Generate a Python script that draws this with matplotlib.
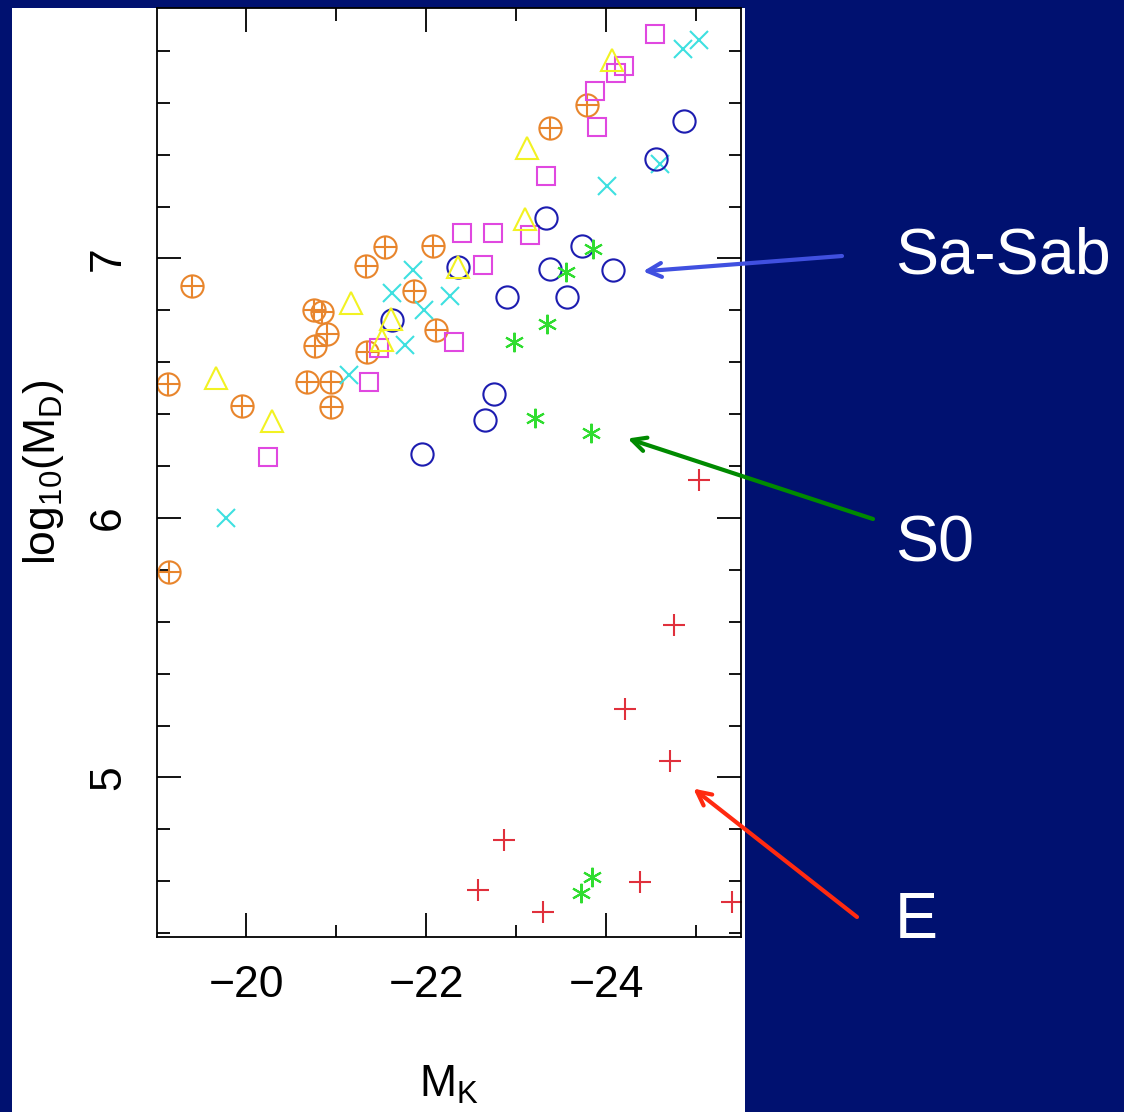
import matplotlib
matplotlib.use("Agg")
import matplotlib.pyplot as plt
from matplotlib.patches import Rectangle
from matplotlib.ticker import MultipleLocator

# ---- data: (M_K, log10 M_D) ----
orange_x = [-19.13, -19.14, -19.40, -19.95, -20.68, -20.94, -20.94, -20.75, -20.84,
            -20.90, -20.77, -21.33, -21.54, -22.08, -21.87, -22.11, -21.34, -23.38, -23.79]
orange_y = [6.517, 5.791, 6.892, 6.430, 6.522, 6.522, 6.427, 6.800, 6.795,
            6.707, 6.661, 6.970, 7.044, 7.046, 6.873, 6.725, 6.639, 7.502, 7.592]

yellow_x = [-19.67, -20.29, -21.17, -21.61, -21.51, -22.36, -23.10, -23.12, -24.07]
yellow_y = [6.541, 6.373, 6.828, 6.768, 6.687, 6.967, 7.153, 7.425, 7.766]

pink_x = [-20.24, -21.37, -21.48, -22.31, -22.40, -22.74, -22.63, -23.16, -23.33,
          -23.90, -23.88, -24.11, -24.20, -24.54]
pink_y = [6.234, 6.522, 6.654, 6.678, 7.099, 7.098, 6.976, 7.091, 7.316,
          7.506, 7.647, 7.714, 7.740, 7.866]

cyan_x = [-19.78, -21.14, -21.77, -21.98, -21.86, -21.62, -22.27, -24.01, -24.60, -24.86, -25.03]
cyan_y = [6.001, 6.549, 6.667, 6.800, 6.956, 6.866, 6.854, 7.279, 7.365, 7.808, 7.840]

# Sa-Sab
blue_x = [-21.95, -21.62, -22.36, -22.90, -23.33, -23.38, -23.57, -23.73, -24.08,
          -24.55, -24.87, -22.76, -22.65]
blue_y = [6.245, 6.761, 6.967, 6.851, 7.157, 6.960, 6.851, 7.046, 6.956,
          7.382, 7.529, 6.479, 6.376]

# S0
green_x = [-23.86, -23.56, -23.34, -22.98, -23.21, -23.83, -23.84, -23.72]
green_y = [7.037, 6.947, 6.746, 6.678, 6.386, 6.327, 4.616, 4.554]

# E
red_x = [-25.03, -24.76, -24.21, -24.71, -22.87, -22.58, -23.30, -24.38, -25.40]
red_y = [6.148, 5.586, 5.265, 5.065, 4.760, 4.565, 4.481, 4.597, 4.520]

bg = '#001170'
fig = plt.figure(figsize=(11.24, 11.12), dpi=100, facecolor=bg)

# white panel behind the plot
fig.add_artist(Rectangle((12/1124, 0), (745-12)/1124, 1104/1112,
                         transform=fig.transFigure, facecolor='white',
                         edgecolor='none', zorder=0))

ax = fig.add_axes([157/1124, 175/1112, 584/1124, 929/1112])
ax.set_facecolor('white')

mew = 1.5
ax.plot(orange_x, orange_y, ls='none', marker='o', ms=16, mfc='none', mec='#e8852c', mew=mew)
ax.plot(orange_x, orange_y, ls='none', marker='+', ms=16, mec='#e8852c', mew=mew)
ax.plot(cyan_x, cyan_y, ls='none', marker='x', ms=13.5, mec='#3ee0e0', mew=mew)
ax.plot(pink_x, pink_y, ls='none', marker='s', ms=13.5, mfc='none', mec='#e048e0', mew=mew)
ax.plot(blue_x, blue_y, ls='none', marker='o', ms=16, mfc='none', mec='#1c1cb0', mew=mew)
ax.plot(yellow_x, yellow_y, ls='none', marker='^', ms=16, mfc='none', mec='#f2f222', mew=mew)
ax.plot(green_x, green_y, ls='none', marker=(6, 2, 0), ms=14, mec='#30dd30', mew=mew)
ax.plot(red_x, red_y, ls='none', marker='+', ms=16, mec='#e0303c', mew=mew)

ax.set_xlim(-19.01, -25.5)
ax.set_ylim(4.385, 7.965)

ax.xaxis.set_major_locator(MultipleLocator(2))
ax.xaxis.set_minor_locator(MultipleLocator(1))
ax.yaxis.set_major_locator(MultipleLocator(1))
ax.yaxis.set_minor_locator(MultipleLocator(0.2))

for s in ax.spines.values():
    s.set_linewidth(1.3)
ax.tick_params(which='both', direction='in', top=True, right=True, width=1.3, color='black')
ax.tick_params(which='major', length=17)
ax.tick_params(which='minor', length=9)
ax.tick_params(axis='x', which='major', labelsize=32, pad=20)
ax.tick_params(axis='y', which='major', labelsize=32, pad=20, labelrotation=90)
for lab in ax.get_yticklabels():
    lab.set_va('center')

fnt = 'Liberation Sans'
for lab in ax.get_xticklabels() + ax.get_yticklabels():
    lab.set_fontfamily(fnt)

ax.set_xlabel(r'$\mathregular{M_K}$', fontsize=32, family=fnt, labelpad=42)
ax.set_ylabel(r'$\mathregular{log_{10}(M_D)}$', fontsize=32, family=fnt, labelpad=16)

# arrows and class labels on the dark background
arrows = [((-24.41, 6.95), (842, 1112-256), '#4050e0'),
          ((-24.24, 6.306), (873, 1112-519), '#008a00'),
          ((-24.97, 4.957), (857, 1112-917), '#ff2a10')]
for tip, tail, col in arrows:
    ax.annotate('', xy=tip, xycoords='data', xytext=tail, textcoords='figure pixels',
                annotation_clip=False,
                arrowprops=dict(arrowstyle='->,head_length=1.0,head_width=0.5',
                                color=col, lw=3, shrinkA=0, shrinkB=0))

for txt, ypix in [('Sa-Sab', 256), ('S0', 544), ('E', 921)]:
    fig.text(895/1124, 1 - ypix/1112, txt, color='white', fontsize=46.5,
             family=fnt, ha='left', va='center')

fig.savefig('out.png', dpi=100, facecolor=bg)
